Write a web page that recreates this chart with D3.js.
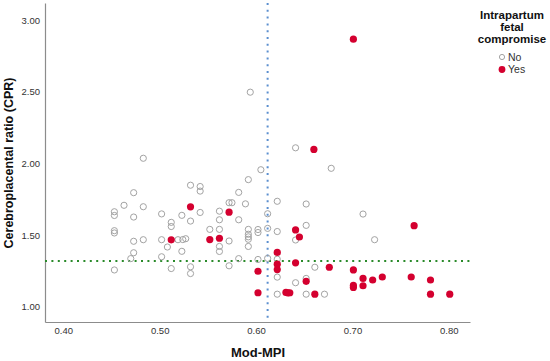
<!DOCTYPE html>
<html>
<head>
<meta charset="utf-8">
<script src="https://cdn.jsdelivr.net/npm/d3@7"></script>
<style>
  body { margin: 0; background: #fff; }
  svg { font-family: Arial, "Liberation Sans", sans-serif; }
</style>
</head>
<body>
<div id="chart"></div>
<script>
// Mod-MPI (x) and CPR (y), intrapartum fetal compromise = No
var mpiNo = [0.453, 0.453, 0.463, 0.473, 0.473, 0.483, 0.453, 0.453, 0.453, 0.473,
             0.483, 0.473, 0.470, 0.483, 0.502, 0.512, 0.512, 0.523, 0.532, 0.542,
             0.542, 0.532, 0.542, 0.502, 0.508, 0.519, 0.524, 0.527, 0.523, 0.502,
             0.512, 0.532, 0.532, 0.592, 0.605, 0.582, 0.572, 0.575, 0.589, 0.562,
             0.562, 0.582, 0.552, 0.562, 0.592, 0.602, 0.602, 0.592, 0.592, 0.592,
             0.592, 0.572, 0.562, 0.562, 0.582, 0.572, 0.602, 0.612, 0.612, 0.612,
             0.622, 0.622, 0.622, 0.622, 0.622, 0.641, 0.678, 0.594, 0.652, 0.652,
             0.641, 0.641, 0.652, 0.652, 0.661, 0.671, 0.711, 0.723];
var cprNo = [1.664, 1.638, 1.709, 1.797, 1.627, 1.699, 1.532, 1.516, 1.258, 1.458,
             1.469, 1.378, 1.337, 2.037, 1.649, 1.590, 1.561, 1.639, 1.849, 1.840,
             1.808, 1.599, 1.659, 1.469, 1.418, 1.469, 1.470, 1.476, 1.388, 1.350,
             1.268, 1.280, 1.233, 1.888, 1.957, 1.799, 1.727, 1.727, 1.719, 1.668,
             1.608, 1.608, 1.541, 1.541, 1.541, 1.540, 1.519, 1.507, 1.489, 1.472,
             1.422, 1.460, 1.422, 1.387, 1.337, 1.287, 1.331, 1.650, 1.548, 1.339,
             1.737, 1.526, 1.333, 1.208, 1.089, 2.110, 1.967, 2.498, 1.718, 1.569,
             1.467, 1.169, 1.199, 1.089, 1.277, 1.089, 1.648, 1.469];

// intrapartum fetal compromise = Yes
var mpiYes = [0.512, 0.532, 0.552, 0.562, 0.572, 0.602, 0.602, 0.622, 0.622, 0.622,
              0.631, 0.633, 0.635, 0.641, 0.645, 0.641, 0.652, 0.661, 0.660, 0.676,
              0.701, 0.701, 0.701, 0.701, 0.711, 0.711, 0.721, 0.731, 0.761, 0.764,
              0.781, 0.781, 0.801];
var cprYes = [1.468, 1.698, 1.470, 1.479, 1.661, 1.249, 1.099, 1.380, 1.298, 1.261,
              1.101, 1.098, 1.099, 1.537, 1.488, 1.308, 1.179, 1.089, 2.099, 1.277,
              2.868, 1.258, 1.150, 1.136, 1.199, 1.148, 1.188, 1.209, 1.209, 1.567,
              1.188, 1.089, 1.089];

var xTicks = [0.40, 0.50, 0.60, 0.70, 0.80];
var yTicks = [1.00, 1.50, 2.00, 2.50, 3.00];
var cutoffMPI = 0.612;
var cutoffCPR = 1.32;
var legendTitle = ['Intrapartum', 'fetal', 'compromise'];
var legendLabels = ['No', 'Yes'];

var W = 550, H = 361;
var red = '#d4002f', grey = '#a3a3a3';

var svg = d3.select('#chart').append('svg')
    .attr('width', W).attr('height', H);

var x = d3.scaleLinear().domain([0.381, 0.822]).range([45, 470]);
var y = d3.scaleLinear().domain([0.895, 3.12]).range([322, 3]);

var xAxis = svg.append('g')
    .attr('transform', 'translate(0,' + y.range()[0] + ')')
    .call(d3.axisBottom(x).tickValues(xTicks).tickSize(0).tickPadding(5)
        .tickFormat(d3.format('.2f')));
var yAxis = svg.append('g')
    .attr('transform', 'translate(' + x.range()[0] + ',0)')
    .call(d3.axisLeft(y).tickValues(yTicks).tickSize(0).tickPadding(5)
        .tickFormat(d3.format('.2f')));

[xAxis, yAxis].forEach(function (a) {
    a.select('.domain').attr('stroke', '#8c8c8c').attr('stroke-width', 1.2);
    a.selectAll('text').attr('font-size', 9.5).attr('fill', '#333')
        .attr('font-family', 'Arial, "Liberation Sans", sans-serif');
});

// reference lines
svg.append('line')
    .attr('x1', x(cutoffMPI)).attr('x2', x(cutoffMPI))
    .attr('y1', y.range()[1]).attr('y2', y.range()[0])
    .attr('stroke', '#5b8fcf').attr('stroke-width', 2)
    .attr('stroke-dasharray', '2,4.8');
svg.append('line')
    .attr('x1', x.range()[0]).attr('x2', x.range()[1])
    .attr('y1', y(cutoffCPR)).attr('y2', y(cutoffCPR))
    .attr('stroke', '#2a8a2a').attr('stroke-width', 2)
    .attr('stroke-dasharray', '2,4.4');

// points: open circles for No, filled red for Yes
svg.append('g').selectAll('circle')
    .data(d3.range(mpiNo.length))
    .join('circle')
    .attr('cx', function (i) { return x(mpiNo[i]); })
    .attr('cy', function (i) { return y(cprNo[i]); })
    .attr('r', 3.1)
    .attr('fill', 'none')
    .attr('stroke', grey)
    .attr('stroke-width', 1);

svg.append('g').selectAll('circle')
    .data(d3.range(mpiYes.length))
    .join('circle')
    .attr('cx', function (i) { return x(mpiYes[i]); })
    .attr('cy', function (i) { return y(cprYes[i]); })
    .attr('r', 3.6)
    .attr('fill', red);

// axis titles
svg.append('text')
    .attr('x', 258).attr('y', 357)
    .attr('text-anchor', 'middle')
    .attr('font-size', 13).attr('font-weight', 'bold').attr('fill', '#111')
    .text('Mod-MPI');
svg.append('text')
    .attr('transform', 'translate(13,163) rotate(-90)')
    .attr('text-anchor', 'middle')
    .attr('font-size', 12.5).attr('font-weight', 'bold').attr('fill', '#111')
    .text('Cerebroplacental ratio (CPR)');

// legend
var lg = svg.append('g');
lg.selectAll('text.title')
    .data(legendTitle)
    .join('text')
    .attr('class', 'title')
    .attr('x', 512).attr('y', function (d, i) { return 19 + i * 12; })
    .attr('text-anchor', 'middle')
    .attr('font-size', 11.5).attr('font-weight', 'bold').attr('fill', '#111')
    .text(function (d) { return d; });

var items = lg.selectAll('g.item')
    .data(legendLabels)
    .join('g')
    .attr('class', 'item')
    .attr('transform', function (d, i) { return 'translate(502,' + (57 + i * 12.5) + ')'; });
items.append('circle')
    .attr('r', function (d, i) { return i ? 3.4 : 2.6; })
    .attr('fill', function (d, i) { return i ? red : 'none'; })
    .attr('stroke', function (d, i) { return i ? 'none' : grey; });
items.append('text')
    .attr('x', 6).attr('dy', '0.35em')
    .attr('font-size', 10.5).attr('fill', '#333')
    .text(function (d) { return d; });
</script>
</body>
</html>
